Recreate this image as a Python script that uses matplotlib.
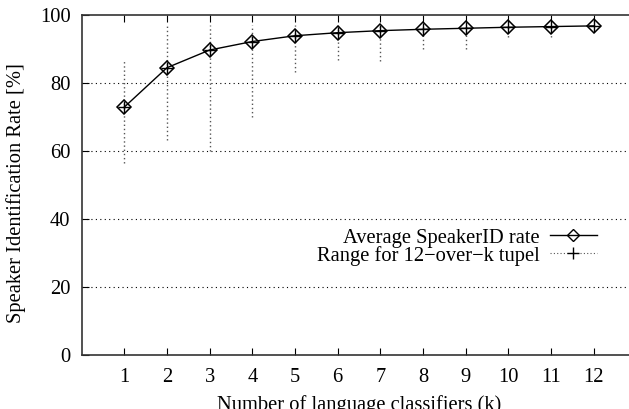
import matplotlib
matplotlib.use('Agg')
import matplotlib.pyplot as plt
from matplotlib.lines import Line2D

plt.rcParams['font.family'] = ['Liberation Serif', 'DejaVu Serif']

# number of language classifiers k
k = [1, 2, 3, 4, 5, 6, 7, 8, 9, 10, 11, 12]
# average speaker ID rate [%]
avg_rate = [72.9, 84.5, 89.7, 92.2, 93.9, 94.8, 95.4, 95.8, 96.1, 96.4, 96.6, 96.8]
# range over the 12-over-k tuples
range_min = [56.4, 63.2, 60.0, 69.9, 83.3, 86.8, 86.6, 89.9, 89.9, 93.4, 93.4, 96.8]
range_max = [86.8, 97.0, 97.0, 97.0, 97.0, 97.0, 97.0, 97.0, 97.0, 97.0, 97.0, 96.8]

fs = 14.8

fig = plt.figure(figsize=(6.29, 4.09), dpi=100)
ax = fig.add_axes([0.1297, 0.132, 0.882, 0.8313])

# range bars (dotted) with + at the mean
err_lo = [a - lo for a, lo in zip(avg_rate, range_min)]
err_hi = [hi - a for a, hi in zip(avg_rate, range_max)]
eb = ax.errorbar(k, avg_rate, yerr=[err_lo, err_hi], fmt='+', color='black',
                 ecolor='#555555', elinewidth=1, capsize=0, markersize=9,
                 markeredgewidth=1, zorder=2)
eb[-1][0].set_linestyle((0, (1, 2)))

# average line with open diamonds
ax.plot(k, avg_rate, color='black', linewidth=1, marker='D', markersize=7,
        markerfacecolor='none', markeredgecolor='black', markeredgewidth=1.1,
        zorder=3)

# legend, gnuplot style: text first, sample after
h1 = Line2D([], [], color='black', linewidth=1, marker='D', markersize=6,
            markerfacecolor='none', markeredgecolor='black')
h2 = Line2D([], [], color='#555555', linewidth=0.8, linestyle=(0, (1, 2)),
            marker='+', markersize=8, markeredgecolor='black')
leg = ax.legend([h1, h2], ['Average SpeakerID rate', 'Range for 12\u2212over\u2212k tupel'],
                loc='center right', bbox_to_anchor=(0.929, 0.318),
                frameon=False, markerfirst=False, fontsize=fs,
                handlelength=2.3, handletextpad=0.5, labelspacing=-0.1,
                borderaxespad=0, borderpad=0)

ax.set_xlim(0, 13)
ax.set_ylim(0, 100)
ax.set_xticks(k)
ax.set_yticks([0, 20, 40, 60, 80, 100])
ax.tick_params(direction='in', top=True, right=True, labelsize=fs, length=5)
ax.tick_params(axis='x', pad=9)
ax.tick_params(axis='y', pad=8)
for y in [20, 40, 60, 80]:
    ax.axhline(y, color='black', linewidth=0.8, linestyle=(0, (1, 3)), zorder=1)

for s in ax.spines.values():
    s.set_color('#333333')
    s.set_linewidth(1.2)

ax.set_xlabel('Number of language classifiers (k)', fontsize=fs, labelpad=6)
ax.set_ylabel('Speaker Identification Rate [%]', fontsize=fs)
ax.yaxis.set_label_coords(-0.100, 0.476)

fig.savefig('out.png', dpi=100)
